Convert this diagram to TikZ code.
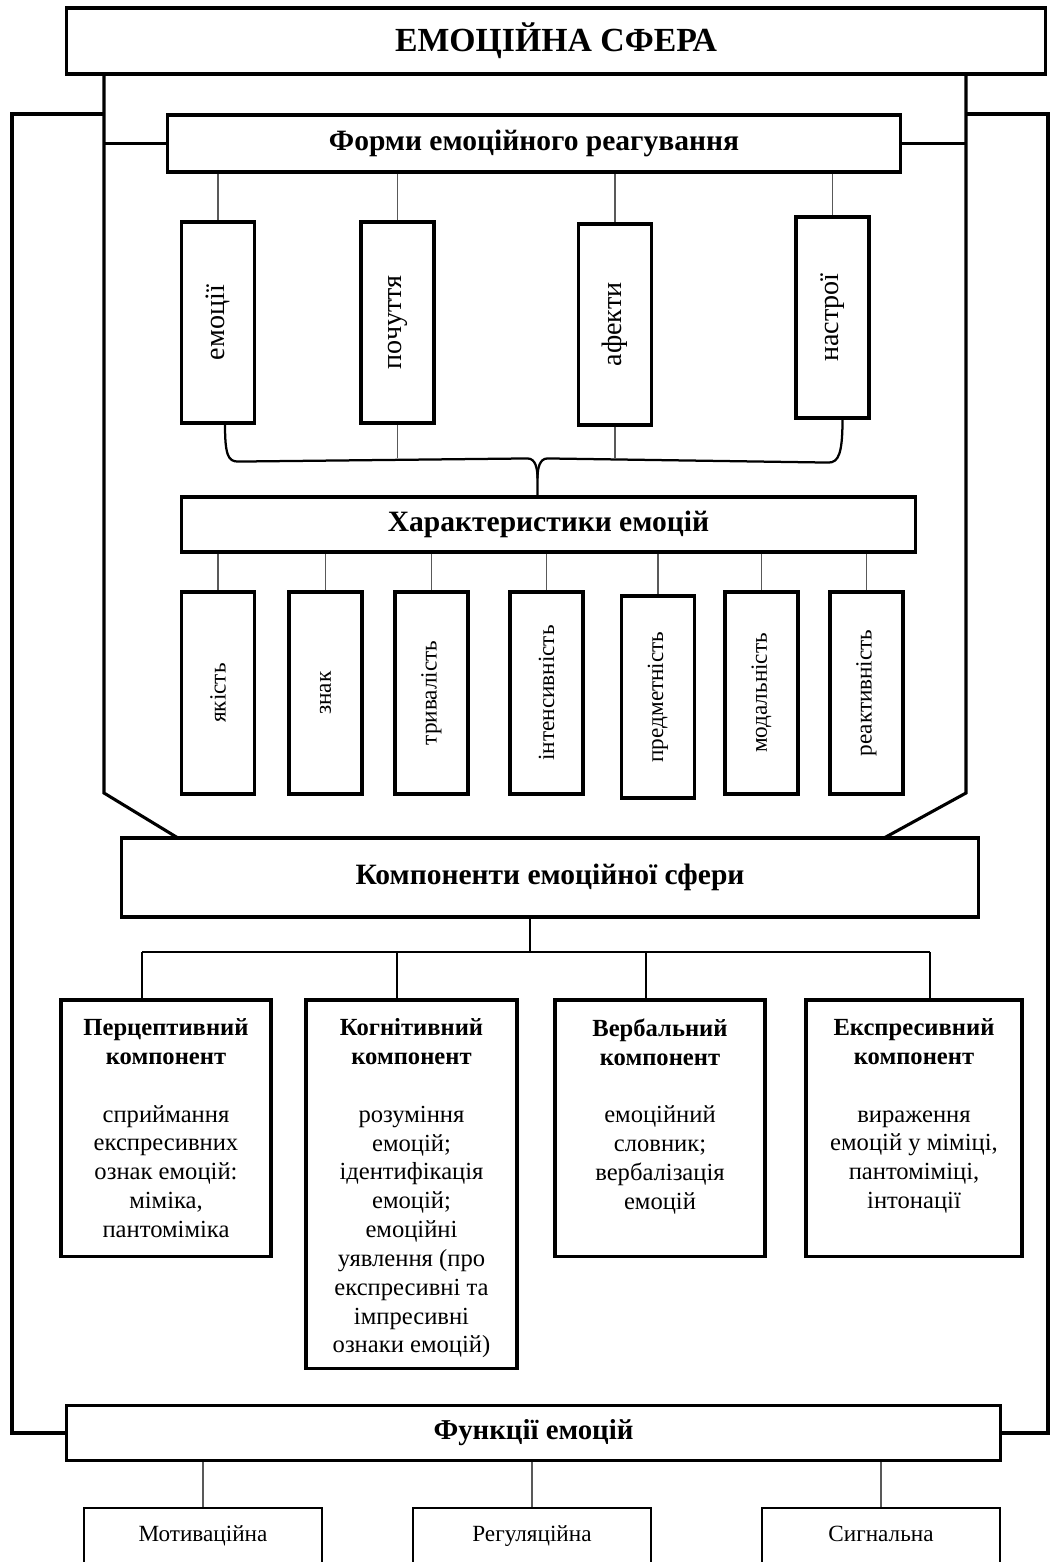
\documentclass[tikz,border=0pt]{standalone}
\usepackage{fontspec}
\setmainfont{Liberation Serif}
\usetikzlibrary{positioning, calc}

\begin{document}
\begin{tikzpicture}[
  x=0.025cm, y=-0.025cm,
  headbox/.style={
    draw, line width=2.2pt, inner sep=0pt,
    font=\fontsize{21}{25}\selectfont\bfseries
  },
  formbox/.style={
    draw, line width=2.2pt, inner sep=0pt,
    minimum width=18.25mm, minimum height=50.25mm,
    font=\fontsize{20}{24}\selectfont
  },
  charbox/.style={
    draw, line width=2.2pt, inner sep=0pt,
    minimum width=18.25mm, minimum height=50.5mm,
    font=\fontsize{16.5}{20}\selectfont
  },
  compbox/.style={
    draw, line width=2.2pt, inner sep=0pt,
    minimum width=52.5mm, minimum height=64mm
  },
  comptext/.style={
    inner sep=0pt, align=center,
    font=\fontsize{17.5}{20.5}\selectfont
  },
  funcbox/.style={
    draw, line width=2pt, inner sep=0pt,
    minimum width=59.5mm, minimum height=15mm,
    text height=1.6ex, text depth=.5ex,
    font=\fontsize{16.5}{19}\selectfont
  },
  frame/.style={line width=2.2pt, line join=miter},
  link/.style={line width=1.6pt},
  thinlink/.style={line width=0.8pt, black!65},
  bracelink/.style={line width=1.6pt},
]

\useasboundingbox (0,0) rectangle (1058,1562);

% ============================================================
% Top: emotional sphere
% ============================================================
\node[headbox, minimum width=244.5mm, minimum height=16.5mm,
      font=\fontsize{24}{28}\selectfont\bfseries] (sphere) at (556,41)
  {ЕМОЦІЙНА СФЕРА};

% --- Forms of emotional response ---
\node[headbox, minimum width=183mm, minimum height=14.25mm] (forms) at (534,143.5)
  {Форми емоційного реагування};

\node[formbox] (emo)   at (218,322.5)   {\rotatebox{90}{емоції}};
\node[formbox] (poch)  at (397.5,322.5) {\rotatebox{90}{почуття}};
\node[formbox] (afek)  at (615,324.5)   {\rotatebox{90}{афекти}};
\node[formbox] (nastr) at (832.5,317.5) {\rotatebox{90}{настрої}};

% --- Characteristics of emotions ---
\node[headbox, minimum width=183.25mm, minimum height=13.75mm] (chars) at (548.5,524.5)
  {Характеристики емоцій};

\node[charbox] (yak)  at (218,693)   {\rotatebox{90}{якість}};
\node[charbox] (znak) at (325.5,693) {\rotatebox{90}{знак}};
\node[charbox] (tryv) at (431.5,693) {\rotatebox{90}{тривалість}};
\node[charbox] (int)  at (546.5,693) {\rotatebox{90}{інтенсивність}};
\node[charbox] (pred) at (658,697)   {\rotatebox{90}{предметність}};
\node[charbox] (mod)  at (761.5,693) {\rotatebox{90}{модальність}};
\node[charbox] (reak) at (866.5,693) {\rotatebox{90}{реактивність}};

% --- Components of the emotional sphere ---
\node[headbox, minimum width=214mm, minimum height=19.75mm] (comps) at (550,877.5)
  {Компоненти емоційної сфери};

\node[compbox] (perc) at (166,1128) {};
\node[comptext, below=5mm of perc.north] (perc-t)
  {\textbf{Перцептивний}\\\textbf{компонент}\\[20.5pt]
   сприймання\\експресивних\\ознак емоцій:\\міміка,\\пантоміміка};

\node[compbox, minimum width=52.75mm, minimum height=92mm] (kogn) at (411.5,1184) {};
\node[comptext, below=5mm of kogn.north] (kogn-t)
  {\textbf{Когнітивний}\\\textbf{компонент}\\[20.5pt]
   розуміння\\емоцій;\\ідентифікація\\емоцій;\\емоційні\\уявлення (про\\експресивні та\\імпресивні\\ознаки емоцій)};

\node[compbox] (verb) at (660,1128) {};
\node[comptext, below=5mm of verb.north] (verb-t)
  {\textbf{Вербальний}\\\textbf{компонент}\\[20.5pt]
   емоційний\\словник;\\вербалізація\\емоцій};

\node[compbox, minimum width=54mm] (expr) at (914,1128) {};
\node[comptext, below=5mm of expr.north] (expr-t)
  {\textbf{Експресивний}\\\textbf{компонент}\\[20.5pt]
   вираження\\емоцій у міміці,\\пантоміміці,\\інтонації};

% --- Functions of emotions ---
\node[headbox, minimum width=233.25mm, minimum height=13.75mm,
      font=\fontsize{20.5}{24}\selectfont\bfseries] (funcs) at (533.5,1433)
  {Функції емоцій};

\node[funcbox] (motiv) at (203,1538) {Мотиваційна};
\node[funcbox] (reg)   at (532,1538) {Регуляційна};
\node[funcbox] (sig)   at (881,1538) {Сигнальна};

% ============================================================
% Frame lines
% ============================================================
\coordinate (lcol)  at (104,793);
\coordinate (rcol)  at (966,793);
\coordinate (lfoot) at (178,838);
\coordinate (rfoot) at (884,838);
\coordinate (lout)  at (12,114);
\coordinate (rout)  at (1048,114);

\draw[frame] (sphere.south -| lcol) -- (lcol) -- (lfoot);
\draw[frame] (sphere.south -| rcol) -- (rcol) -- (rfoot);
\draw[frame] (lcol |- forms.west) -- (forms.west);
\draw[frame] (forms.east) -- (rcol |- forms.east);

% outer loop down to the functions
\draw[frame] (lcol |- lout) -- (lout) -- (lout |- funcs.west) -- (funcs.west);
\draw[frame] (rcol |- rout) -- (rout) -- (rout |- funcs.east) -- (funcs.east);

% ============================================================
% Forms -> boxes -> brace -> characteristics
% ============================================================
\foreach \n in {emo, poch, afek, nastr}
  \draw[thinlink] (forms.south -| \n.north) -- (\n.north);

\coordinate (btip) at ($(chars.north)+(-11,0)$);
\coordinate (bmid) at ($(btip)+(0,-37)$);

\draw[bracelink] ($(emo.south)+(7,0)$) .. controls +(0,30) and +(-10,0) ..
  ($(emo.south)+(20,37)$) -- ($(bmid)+(-10,0)$)
  .. controls +(8,0) and +(0,-10) .. ($(bmid)+(0,20)$) -- (btip);
\draw[bracelink] ($(nastr.south)+(10,0)$) .. controls +(0,34) and +(10,0) ..
  ($(nastr.south)+(-4,43)$) -- ($(bmid)+(10,0)$)
  .. controls +(-8,0) and +(0,-10) .. ($(bmid)+(0,20)$);

\draw[thinlink] (poch.south) -- (poch.south |- bmid);
\draw[thinlink] (afek.south) -- (afek.south |- bmid);

\foreach \n in {yak, znak, tryv, int, pred, mod, reak}
  \draw[thinlink] (chars.south -| \n.north) -- (\n.north);

% ============================================================
% Components tree
% ============================================================
\coordinate (drop0) at (530,952);
\coordinate (drop1) at (142,952);
\coordinate (drop2) at (397,952);
\coordinate (drop3) at (646,952);
\coordinate (drop4) at (930,952);

\draw[link] (comps.south -| drop0) -- (drop0);
\draw[link] (drop1) -- (drop4);
\draw[link] (drop1) -- (drop1 |- perc.north);
\draw[link] (drop2) -- (drop2 |- kogn.north);
\draw[link] (drop3) -- (drop3 |- verb.north);
\draw[link] (drop4) -- (drop4 |- expr.north);

% ============================================================
% Functions
% ============================================================
\foreach \n in {motiv, reg, sig}
  \draw[thinlink] (funcs.south -| \n.north) -- (\n.north);

\end{tikzpicture}
\end{document}
